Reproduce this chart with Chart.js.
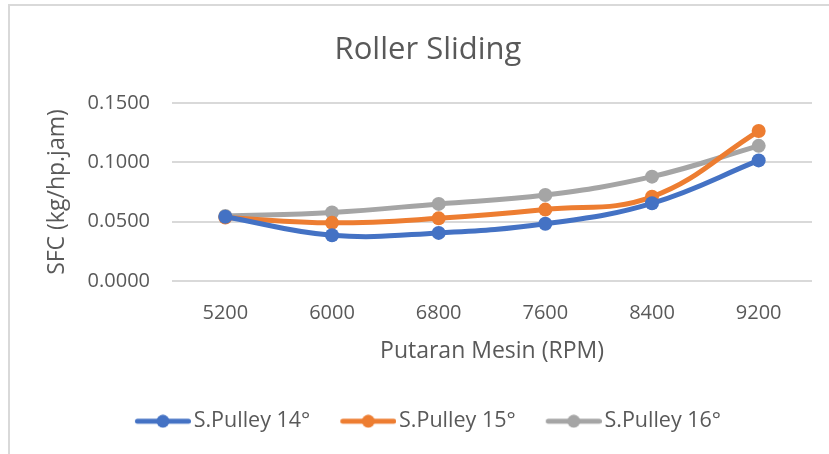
<!DOCTYPE html>
<html>
<head>
<meta charset="utf-8">
<script src="https://cdn.jsdelivr.net/npm/chart.js@4/dist/chart.umd.min.js"></script>
<style>
  html, body { margin: 0; padding: 0; background: #fff; overflow: hidden; }
  #frame { position: absolute; left: 8px; top: 4px; width: 900px; height: 500px;
           border: 2px solid #d9d9d9; box-sizing: border-box; }
  #wrap { position: absolute; left: 0; top: 0; width: 829px; height: 454px; }
</style>
</head>
<body>
<div id="frame"></div>
<div id="wrap"><canvas id="chart"></canvas></div>
<script>
// ---- data ----
const rpm = ['5200', '6000', '6800', '7600', '8400', '9200'];
const pulley14 = [0.0542, 0.0385, 0.0405, 0.0482, 0.0655, 0.1017];
const pulley15 = [0.0535, 0.0490, 0.0528, 0.0602, 0.0710, 0.1265];
const pulley16 = [0.0548, 0.0578, 0.0650, 0.0725, 0.0880, 0.1140];
const yTicks = [0, 0.05, 0.10, 0.15];

const TEXT = '#595959';
const GRID = '#d9d9d9';
const FONT = "'Open Sans', sans-serif";

// legend swatch: line with a dot in the middle, like Excel
function swatch(color) {
  const c = document.createElement('canvas');
  c.width = 64; c.height = 14;
  const g = c.getContext('2d');
  g.strokeStyle = color;
  g.lineWidth = 5;
  g.lineCap = 'round';
  g.beginPath(); g.moveTo(10.5, 7); g.lineTo(61.5, 7); g.stroke();
  g.fillStyle = color;
  g.beginPath(); g.arc(36, 7, 6.5, 0, Math.PI * 2); g.fill();
  return c;
}

function series(label, data, color) {
  return {
    label: label,
    data: data,
    borderColor: color,
    backgroundColor: color,
    borderWidth: 5,
    pointRadius: 7,
    pointHoverRadius: 7,
    pointBorderWidth: 0,
    tension: 0.4,
    pointStyle: 'circle',
    legendSwatch: swatch(color)
  };
}

new Chart(document.getElementById('chart'), {
  type: 'line',
  data: {
    labels: rpm,
    datasets: [
      series('S.Pulley 14°', pulley14, '#4472c4'),
      series('S.Pulley 15°', pulley15, '#ed7d31'),
      series('S.Pulley 16°', pulley16, '#a5a5a5')
    ]
  },
  options: {
    responsive: true,
    maintainAspectRatio: false,
    animation: false,
    layout: { padding: { left: 44, right: 17, top: 18, bottom: 12 } },
    plugins: {
      title: {
        display: true,
        text: 'Roller Sliding',
        color: TEXT,
        font: { family: FONT, size: 31, weight: 'normal' },
        padding: { top: 14, bottom: 34 }
      },
      legend: {
        position: 'bottom',
        labels: {
          color: TEXT,
          font: { family: FONT, size: 21.5 },
          usePointStyle: true,
          pointStyleWidth: 48,
          padding: 30,
          generateLabels(chart) {
            return chart.data.datasets.map((ds, i) => ({
              text: ds.label,
              pointStyle: ds.legendSwatch,
              fontColor: TEXT,
              datasetIndex: i,
              lineWidth: 0,
              hidden: false
            }));
          }
        }
      },
      tooltip: { enabled: false }
    },
    scales: {
      x: {
        offset: true,
        grid: { display: false },
        border: { display: false },
        ticks: { color: TEXT, font: { family: FONT, size: 20 }, padding: 12 },
        title: {
          display: true,
          text: 'Putaran Mesin (RPM)',
          color: TEXT,
          font: { family: FONT, size: 23 },
          padding: { top: 1, bottom: 15 }
        }
      },
      y: {
        min: 0,
        max: 0.15,
        afterBuildTicks(axis) { axis.ticks = yTicks.map(v => ({ value: v })); },
        afterFit(axis) { axis.width = 128; },
        grid: { color: GRID, lineWidth: 2, drawTicks: false },
        border: { display: false },
        ticks: {
          color: TEXT,
          font: { family: FONT, size: 20 },
          padding: 22,
          callback: v => Number(v).toFixed(4)
        },
        title: {
          display: true,
          text: 'SFC (kg/hp.jam)',
          color: TEXT,
          font: { family: FONT, size: 23 },
          padding: { top: 0, bottom: 0 }
        }
      }
    }
  }
});
</script>
</body>
</html>
